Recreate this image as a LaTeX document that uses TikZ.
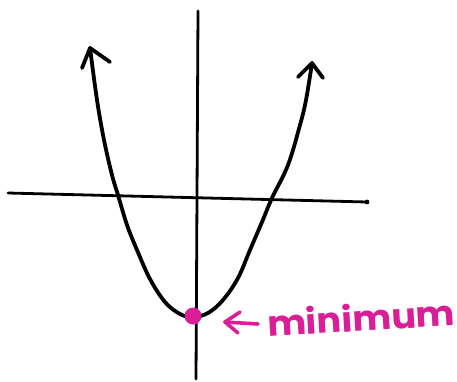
\documentclass[tikz,border=0pt]{standalone}
\usepackage{fontspec}
\newfontfamily\handfont{Poppins}
\definecolor{mag}{RGB}{218,30,152}
\begin{document}
\begin{tikzpicture}[x=1pt,y=-1pt,
  ink/.style={line width=3.8pt,line cap=round,line join=round,black},
  axis/.style={line width=2.8pt,line cap=round,black},
  magline/.style={line width=3.6pt,line cap=round,line join=round,mag}]
\useasboundingbox (0,0) rectangle (457,381);
% axes
\coordinate (ytop) at (198,11);
\coordinate (ybot) at (196,379);
\coordinate (xl) at (8,193);
\coordinate (xr) at (367,202);
\draw[axis] (ytop) -- (ybot);
\draw[axis] (xl) -- (xr);
\fill (xr) circle (2.4);
% parabola
\draw[ink] plot[smooth,tension=0.6] coordinates {(90,48) (97,100) (104,140) (112,175) (118,195) (127,225) (137,250) (150,279) (165,302) (180,314) (193,317) (208,313) (223,300) (238,278) (250,250) (262,222) (272,198) (288,165) (300,125) (306,100) (312,63)};
% arrowheads
\draw[ink] (82,68) -- (90,48) -- (110,62);
\draw[ink] (298,77) -- (312,63) -- (323,78);
% minimum point
\fill[mag] (193,316) circle (8.5);
\node[inner sep=0pt] (min) at (193,316) {};
% label
\node[mag,font=\handfont\bfseries\fontsize{35}{35}\selectfont,rotate=3.4,inner sep=0pt,anchor=center,xscale=1.05] (lbl) at (361,317) {minimum};
\coordinate (as) at (258,324);
\coordinate (at) at (225,322);
\draw[magline] (as) -- (at);
\draw[magline] (240,312) -- (at) -- (238,333);
\end{tikzpicture}
\end{document}
